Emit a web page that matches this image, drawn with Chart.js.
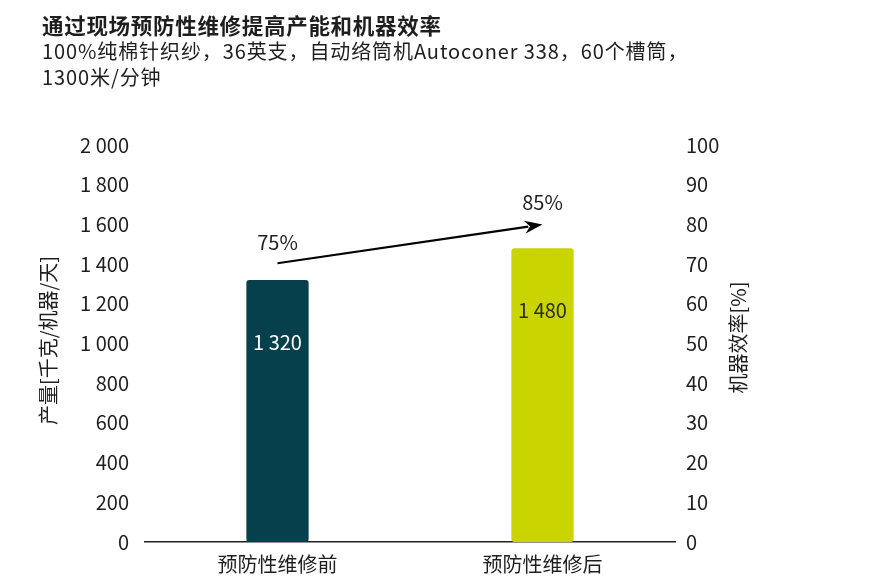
<!DOCTYPE html>
<html><head><meta charset="utf-8">
<script src="https://cdn.jsdelivr.net/npm/chart.js@4/dist/chart.umd.min.js"></script>
<style>html,body{margin:0;padding:0;background:#fff}#wrap{width:890px;height:586px}</style>
</head><body><div id="wrap"><canvas id="c" width="890" height="586"></canvas></div>
<script>
const titleLines = ["通过现场预防性维修提高产能和机器效率", "100%纯棉针织纱，36英支，自动络筒机Autoconer 338，60个槽筒，", "1300米/分钟"];
const categories = ["预防性维修前", "预防性维修后"];
const output = [1320, 1480];
const efficiency = [75, 85];
const barColors = ["#05404c", "#c9d400"];
const valueLabelColors = ["#ffffff", "#2a2a2a"];
const leftTitle = "产量[千克/机器/天]";
const rightTitle = "机器效率[%]";

const FONT = "'Noto Sans CJK SC', 'Noto Sans', sans-serif";
const TXT = "#1e1e1e";
const fmt = v => String(v).replace(/\B(?=(\d{3})+(?!\d))/g, " ");

const deco = {
  id: "deco",
  afterDraw(chart) {
    const ctx = chart.ctx, ca = chart.chartArea;
    ctx.save();
    ctx.fillStyle = TXT;
    ctx.textBaseline = "middle";
    ctx.textAlign = "left";
    ctx.font = "700 21.5px " + FONT;
    ctx.letterSpacing = "0.7px";
    ctx.fillText(titleLines[0], 42, 26);
    ctx.font = "400 20px " + FONT;
    ctx.letterSpacing = "0.9px";
    ctx.fillText(titleLines[1], 42, 51);
    ctx.fillText(titleLines[2], 42, 77);
    ctx.letterSpacing = "0px";
    // axis titles
    ctx.font = "400 20px " + FONT;
    ctx.textAlign = "center";
    const midY = (ca.top + ca.bottom) / 2;
    ctx.save(); ctx.translate(ca.left - 97, midY - 3); ctx.rotate(-Math.PI / 2); ctx.fillText(leftTitle, 0, 0); ctx.restore();
    ctx.save(); ctx.translate(ca.right + 63, midY - 6); ctx.rotate(-Math.PI / 2); ctx.fillText(rightTitle, 0, 0); ctx.restore();
    // bar value labels
    const barMeta = chart.getDatasetMeta(0);
    barMeta.data.forEach((el, i) => {
      ctx.fillStyle = valueLabelColors[i];
      ctx.fillText(fmt(output[i]), el.x, el.y + 62);
    });
    // efficiency labels and arrow
    const pts = chart.getDatasetMeta(1).data;
    ctx.fillStyle = TXT;
    pts.forEach((p, i) => ctx.fillText(efficiency[i] + "%", p.x, p.y - 2));
    const x0 = pts[0].x, y0 = pts[0].y + 19, x1 = pts[1].x, y1 = pts[1].y + 20;
    const ang = Math.atan2(y1 - y0, x1 - x0);
    const hl = 18, hw = 6.5;
    ctx.strokeStyle = "#000"; ctx.lineWidth = 2.2;
    ctx.beginPath(); ctx.moveTo(x0, y0);
    ctx.lineTo(x1 - hl * 0.8 * Math.cos(ang), y1 - hl * 0.8 * Math.sin(ang)); ctx.stroke();
    ctx.fillStyle = "#000";
    ctx.beginPath();
    ctx.moveTo(x1, y1);
    ctx.lineTo(x1 - hl * Math.cos(ang) + hw * Math.sin(ang), y1 - hl * Math.sin(ang) - hw * Math.cos(ang));
    ctx.lineTo(x1 - hl * 0.7 * Math.cos(ang), y1 - hl * 0.7 * Math.sin(ang));
    ctx.lineTo(x1 - hl * Math.cos(ang) - hw * Math.sin(ang), y1 - hl * Math.sin(ang) + hw * Math.cos(ang));
    ctx.closePath(); ctx.fill();
    ctx.restore();
  }
};

new Chart(document.getElementById("c"), {
  type: "bar",
  data: {
    labels: categories,
    datasets: [
      { type: "bar", data: output, yAxisID: "y", backgroundColor: barColors,
        barPercentage: 0.235, categoryPercentage: 1, borderRadius: 3, borderSkipped: false, order: 2 },
      { type: "line", data: efficiency, yAxisID: "y2", showLine: false, pointRadius: 0, pointHoverRadius: 0, order: 1 }
    ]
  },
  options: {
    responsive: false, animation: false, devicePixelRatio: 1,
    layout: { padding: { top: 145, left: 0, right: 0, bottom: 0 } },
    plugins: { legend: { display: false }, tooltip: { enabled: false }, title: { display: false } },
    scales: {
      x: {
        grid: { display: false, drawTicks: false },
        border: { display: true, color: "#222", width: 1.5 },
        ticks: { color: TXT, font: { family: FONT, size: 20 }, padding: 10 },
        afterFit(s) { s.height = 44; }
      },
      y: {
        position: "left", min: 0, max: 2000,
        grid: { display: false, drawTicks: false }, border: { display: false },
        ticks: { stepSize: 200, color: TXT, font: { family: FONT, size: 20 }, padding: 16, callback: v => fmt(v) },
        afterFit(s) { s.width = 145; }
      },
      y2: {
        position: "right", min: 0, max: 100,
        grid: { display: false, drawTicks: false }, border: { display: false },
        ticks: { stepSize: 10, color: TXT, font: { family: FONT, size: 20 }, padding: 11 },
        afterFit(s) { s.width = 215; }
      }
    }
  },
  plugins: [deco]
});
</script></body></html>
